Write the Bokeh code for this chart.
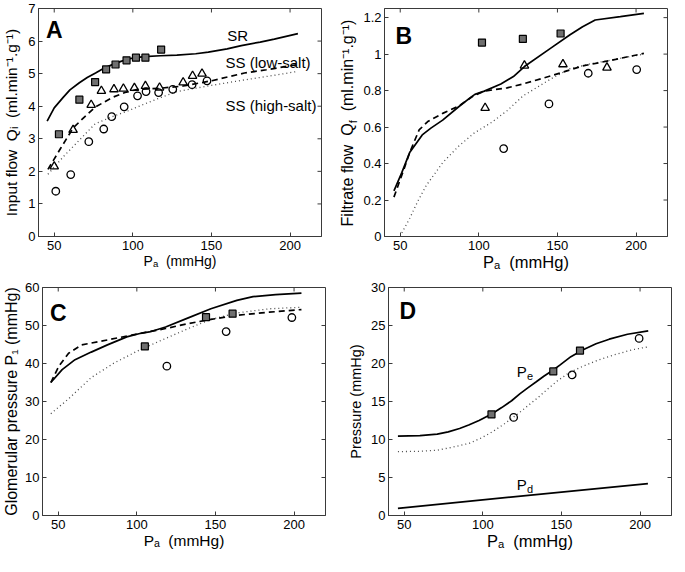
import math
from bokeh.plotting import figure
from bokeh.models import Range1d, FixedTicker, Div
from bokeh.layouts import column, row
from bokeh.embed import file_html
from bokeh.resources import INLINE
from bokeh.core.properties import value

# ---------------- data ----------------
x_ticks = [50, 100, 150, 200]

# Panel A : input flow
a_sr_x = [45.5, 50, 55.7, 60, 66, 71, 76.3, 81, 86.6, 92, 96.9, 102, 107.2, 117.5, 128, 140, 148, 160, 169, 181, 190, 205]
a_sr_y = [3.54, 3.95, 4.27, 4.5, 4.72, 4.88, 5.02, 5.15, 5.27, 5.37, 5.45, 5.49, 5.52, 5.55, 5.57, 5.61, 5.66, 5.76, 5.86, 5.97, 6.06, 6.23]
a_low_x = [46, 54, 62, 69, 76, 87, 95, 103, 117, 132, 150, 171, 185, 205]
a_low_y = [2.06, 2.7, 3.33, 3.66, 3.97, 4.27, 4.42, 4.52, 4.55, 4.62, 4.78, 5.02, 5.12, 5.28]
a_high_x = [46, 56, 66, 76, 87, 97, 108, 118, 128, 150, 170, 190, 205]
a_high_y = [1.91, 2.46, 2.96, 3.46, 3.68, 3.86, 4.08, 4.27, 4.45, 4.64, 4.8, 4.95, 5.07]
a_sq_x = [53, 66, 76, 83, 89, 96, 102, 108, 118]
a_sq_y = [3.14, 4.2, 4.74, 5.13, 5.28, 5.41, 5.49, 5.49, 5.74]
a_tri_x = [50, 62, 73.5, 80, 88, 94, 101, 108, 117, 132, 138, 144]
a_tri_y = [2.15, 3.27, 4.04, 4.47, 4.52, 4.54, 4.56, 4.62, 4.57, 4.73, 4.93, 5.0]
a_circ_x = [51, 60.5, 72, 81.5, 86.6, 94.5, 103, 108.4, 116.4, 125.4, 137.7, 147.2]
a_circ_y = [1.39, 1.9, 2.91, 3.3, 3.68, 3.98, 4.32, 4.45, 4.42, 4.52, 4.66, 4.78]

# Panel B : filtrate flow
b_sr_x = [46, 51, 56, 64, 69.5, 77, 87, 95, 97.5, 103.5, 114, 122, 129, 146, 158, 166, 174, 190, 205]
b_sr_y = [0.25, 0.35, 0.46, 0.557, 0.594, 0.638, 0.71, 0.764, 0.779, 0.797, 0.836, 0.877, 0.932, 1.034, 1.106, 1.15, 1.187, 1.205, 1.223]
b_low_x = [46, 52, 56, 62, 67.5, 77, 87, 97, 103.5, 118, 128, 146, 166, 187, 205]
b_low_y = [0.216, 0.36, 0.46, 0.584, 0.63, 0.675, 0.714, 0.773, 0.797, 0.815, 0.836, 0.881, 0.935, 0.971, 1.004]
b_high_x = [51, 56, 61, 66.5, 77, 87, 97, 108, 118, 128, 146, 158, 170, 187, 205]
b_high_y = [0.02, 0.099, 0.19, 0.279, 0.405, 0.494, 0.567, 0.625, 0.69, 0.77, 0.865, 0.92, 0.945, 0.972, 1.0]
b_sq_x = [102, 128, 152]
b_sq_y = [1.063, 1.083, 1.113]
b_tri_x = [104, 129, 153.5, 181.5]
b_tri_y = [0.705, 0.937, 0.944, 0.926]
b_circ_x = [115.8, 144.6, 169.6, 200.4]
b_circ_y = [0.482, 0.727, 0.895, 0.915]

# Panel C : glomerular pressure
c_sr_x = [45.3, 52.5, 60.7, 71, 81.3, 93.6, 101.9, 108, 118.3, 132.7, 147.1, 163.6, 173.9, 188.3, 204.7]
c_sr_y = [35.0, 38.4, 41.0, 43.0, 44.9, 47.0, 47.9, 48.3, 49.6, 52.0, 54.4, 56.6, 57.6, 58.1, 58.5]
c_low_x = [45.3, 50.4, 56.6, 64.8, 81.3, 101.9, 118.3, 132.7, 147.1, 163.6, 184.2, 204.7]
c_low_y = [35.0, 39.3, 42.7, 44.9, 46.2, 47.9, 49.2, 50.5, 51.6, 52.7, 53.5, 54.2]
c_high_x = [45.3, 56.6, 71, 85.4, 101.9, 118.3, 132.7, 147.1, 163.6, 184.2, 204.7]
c_high_y = [26.8, 30.7, 36.3, 40.1, 43.6, 46.6, 49.2, 51.6, 53.3, 54.4, 54.8]
c_sq_x = [105.1, 144, 160.9]
c_sq_y = [44.5, 52.2, 53.1]
c_circ_x = [119.1, 156.8, 198.6]
c_circ_y = [39.3, 48.4, 52.1]

# Panel D : pressures
d_pe_x = [46, 60, 71, 78, 85.2, 91, 97.6, 105.9, 112, 118.3, 123.5, 128.6, 134, 139, 144.8, 149.4, 156, 163.8, 172, 180.4, 192, 205.2]
d_pe_y = [10.45, 10.5, 10.7, 11.0, 11.45, 11.9, 12.5, 13.4, 14.2, 15.1, 16.0, 16.8, 17.6, 18.35, 19.15, 19.85, 20.9, 21.8, 22.6, 23.2, 23.85, 24.3]
d_dot_x = [46, 60, 71, 81, 91.4, 99, 106, 114, 122.4, 129, 135, 141, 147.3, 155, 163.8, 174, 184.5, 195, 205.2]
d_dot_y = [8.4, 8.45, 8.6, 9.0, 9.5, 10.2, 11.0, 12.1, 13.4, 14.5, 15.5, 16.6, 17.7, 18.8, 19.65, 20.5, 21.2, 21.8, 22.2]
d_pd_x = [46, 205]
d_pd_y = [0.95, 4.2]
d_sq_x = [105.5, 144.8, 161.8]
d_sq_y = [13.3, 18.96, 21.7]
d_circ_x = [119.6, 156.8, 199.4]
d_circ_y = [12.9, 18.5, 23.3]

# ---------------- styling ----------------
FONT = "Liberation Sans"
FW, FH = 283, 228
X0, X1 = 40, 220
FRAME_C = "#3a3a3a"
SOLID_W = 1.7
SQ_FILL = "#6f6f6f"
TICK_LEN = 4
SP2 = "\u00a0\u00a0"


def make_fig(ylim, yticks, left, right, top, bottom, ylabel, ylabel_size, xlabel_size,
             overrides=None, ylabel_standoff=4):
    p = figure(frame_width=FW, frame_height=FH,
               x_range=Range1d(X0, X1), y_range=Range1d(*ylim),
               min_border_left=left, min_border_right=right,
               min_border_top=top, min_border_bottom=bottom,
               output_backend="svg", toolbar_location=None, tools="")
    p.grid.visible = False
    p.outline_line_color = FRAME_C
    p.outline_line_width = 1
    p.background_fill_color = "white"
    p.border_fill_color = "white"
    p.xaxis.ticker = FixedTicker(ticks=x_ticks)
    p.yaxis.ticker = FixedTicker(ticks=yticks)
    if overrides:
        p.yaxis.major_label_overrides = overrides
    for ax in p.axis:
        ax.axis_line_color = FRAME_C
        ax.major_tick_in = TICK_LEN
        ax.major_tick_out = 0
        ax.major_tick_line_color = FRAME_C
        ax.minor_tick_line_color = None
        ax.major_label_text_font = FONT
        ax.major_label_text_font_size = "13px"
        ax.major_label_text_color = "black"
        ax.axis_label_text_font = FONT
        ax.axis_label_text_font_style = "normal"
        ax.axis_label_text_color = "black"
    p.xaxis.major_label_standoff = 4
    p.yaxis.major_label_standoff = 3
    p.xaxis.axis_label = "P\u2090" + SP2 + "(mmHg)"
    p.xaxis.axis_label_text_font_size = xlabel_size
    p.xaxis.axis_label_standoff = 0
    if ylabel:
        p.yaxis.axis_label = ylabel
        p.yaxis.axis_label_text_font_size = ylabel_size
        p.yaxis.axis_label_standoff = ylabel_standoff
    # mirrored inward ticks on the top and right edges of the box
    p.ray(x=x_ticks, y=[ylim[1]] * len(x_ticks), length=TICK_LEN, length_units="screen",
          angle=-math.pi / 2, line_color=FRAME_C, line_width=1)
    p.ray(x=[X1] * len(yticks), y=yticks, length=TICK_LEN, length_units="screen",
          angle=math.pi, line_color=FRAME_C, line_width=1)
    return p


def curves(p, solid=None, dashed=None, dotted=None):
    if dotted:
        p.line(dotted[0], dotted[1], line_color="#4a4a4a", line_width=1.3, line_dash="1 3")
    if dashed:
        p.line(dashed[0], dashed[1], line_color="black", line_width=SOLID_W, line_dash="6 4")
    if solid:
        p.line(solid[0], solid[1], line_color="black", line_width=SOLID_W)


def markers(p, sq=None, tri=None, circ=None):
    if tri:
        p.scatter(tri[0], tri[1], marker="triangle", size=8.5, fill_color=None,
                  line_color="black", line_width=1.3)
    if circ:
        p.scatter(circ[0], circ[1], marker="circle", size=7.5, fill_color=None,
                  line_color="black", line_width=1.3)
    if sq:
        p.scatter(sq[0], sq[1], marker="square", size=7, fill_color=SQ_FILL,
                  line_color="black", line_width=1.2)


def letter(p, x, y, t):
    p.text([x], [y], text=[t], text_font=value(FONT), text_font_style="bold",
           text_font_size="23px", text_align="left", text_baseline="top", text_color="black")


def word(p, x, y, t, size="15px", align="left", baseline="middle"):
    p.text([x], [y], text=[t], text_font=value(FONT), text_font_size=size,
           text_align=align, text_baseline=baseline, text_color="black")


sx = FW / (X1 - X0)  # px per x unit

# ---------- Panel A ----------
pa = make_fig((0, 7), [0, 1, 2, 3, 4, 5, 6, 7], 38, 15, 8, 40,
              "Input flow" + SP2 + "Q\u1d62" + SP2 + "(ml.min\u207b\u00b9.g\u207b\u00b9)", "15.5px", "14px",
              ylabel_standoff=5)
curves(pa, (a_sr_x, a_sr_y), (a_low_x, a_low_y), (a_high_x, a_high_y))
markers(pa, (a_sq_x, a_sq_y), (a_tri_x, a_tri_y), (a_circ_x, a_circ_y))
letter(pa, X0 + 7.5 / sx, 7 - 8.5 / (FH / 7), "A")
word(pa, 160, 6.18, "SR")
word(pa, 159, 5.35, "SS (low-salt)")
word(pa, 159, 4.02, "SS (high-salt)")

# ---------- Panel B ----------
b_ticks = [0, 0.2, 0.4, 0.6, 0.8, 1.0, 1.2]
b_over = {0: "0", 0.2: "0.2", 0.4: "0.4", 0.6: "0.6", 0.8: "0.8", 1.0: "1", 1.2: "1.2"}
pb = make_fig((0, 1.25), b_ticks, 26, 2, 8, 40, "", "16px", "16.5px", overrides=b_over)
curves(pb, (b_sr_x, b_sr_y), (b_low_x, b_low_y), (b_high_x, b_high_y))
markers(pb, (b_sq_x, b_sq_y), (b_tri_x, b_tri_y), (b_circ_x, b_circ_y))
sy_b = FH / 1.25
letter(pb, X0 + 11 / sx, 1.25 - 14 / sy_b, "B")

# y label of panel B (needs a real subscript f), as an HTML column beside the plot
LBL_W = 22
b_label_html = (
    f'<div style="position:relative;width:{LBL_W}px;height:276px;">'
    f'<div style="position:absolute;left:{LBL_W / 2 + 1}px;top:123px;'
    'transform:translate(-50%,-50%) rotate(-90deg);white-space:nowrap;'
    "font-family:'Liberation Sans',sans-serif;font-size:16px;color:black;line-height:1;\">"
    'Filtrate flow&nbsp;&nbsp;Q<sub style="font-size:11px;line-height:0;">f</sub>&nbsp;&nbsp;'
    '(ml.min\u207b\u00b9.g\u207b\u00b9)</div></div>'
)
b_label = Div(text=b_label_html, width=LBL_W, height=276, margin=(0, 0, 0, 0))

# ---------- Panel C ----------
pc = make_fig((0, 60), [0, 10, 20, 30, 40, 50, 60], 38, 15, 11, 39,
              "Glomerular pressure P\u2081 (mmHg)", "16px", "15.5px", ylabel_standoff=2)
curves(pc, (c_sr_x, c_sr_y), (c_low_x, c_low_y), (c_high_x, c_high_y))
markers(pc, (c_sq_x, c_sq_y), None, (c_circ_x, c_circ_y))
letter(pc, X0 + 7.5 / sx, 60 - 12 / (FH / 60), "C")

# ---------- Panel D ----------
pd_ = make_fig((0, 30), [0, 5, 10, 15, 20, 25, 30], 48, 2, 11, 39,
               "Pressure (mmHg)", "14.5px", "16.5px")
curves(pd_, (d_pe_x, d_pe_y), None, (d_dot_x, d_dot_y))
curves(pd_, (d_pd_x, d_pd_y))
markers(pd_, (d_sq_x, d_sq_y), None, (d_circ_x, d_circ_y))
sy_d = FH / 30
letter(pd_, X0 + 11 / sx, 30 - 10.5 / sy_d, "D")
word(pd_, 121.6, 19.0, "P")
word(pd_, 121.6 + 10.3 / sx, 19.0 - 4.5 / sy_d, "e", size="11px")
word(pd_, 121.6, 4.1, "P")
word(pd_, 121.6 + 10.3 / sx, 4.1 - 4.5 / sy_d, "d", size="11px")

layout = column(row(pa, b_label, pb), row(pc, pd_))
open("out.html", "w").write(file_html(layout, INLINE))
